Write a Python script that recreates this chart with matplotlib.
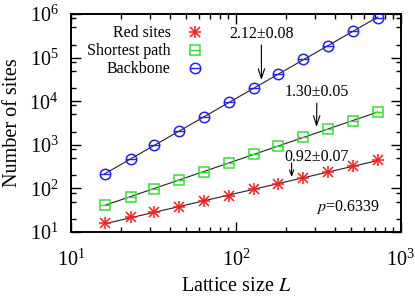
import numpy as np
import matplotlib
matplotlib.use('Agg')
import matplotlib.pyplot as plt
from matplotlib.ticker import LogLocator, NullFormatter
from matplotlib.legend_handler import HandlerTuple

plt.rcParams['font.family'] = ['Liberation Serif', 'DejaVu Serif']
plt.rcParams['mathtext.fontset'] = 'stix'

# datos
L = [16, 23, 32, 45, 64, 91, 128, 181, 256, 362, 512, 724]
red_sites = [15.8, 21.7, 28.3, 36.9, 52.3, 68.1, 95.3, 128, 176, 234, 326, 448]
shortest_path = [40.9, 64.6, 96.9, 160, 242, 383, 625, 953, 1485, 2270, 3520, 5740]
backbone = [214, 464, 988, 2075, 4280, 9440, 20400, 42800, 91400, 187600, 407000, 822000]

labels = ['Red sites', 'Shortest path', 'Backbone']
exponents = ['0.92\u00b10.07', '1.30\u00b10.05', '2.12\u00b10.08']

c_red = '#ff1a1a'
c_green = '#33e033'
c_blue = '#2020ff'

fig = plt.figure(figsize=(4.15, 3.0), dpi=100)
ax = fig.add_axes([0.171, 0.2267, 0.795, 0.7263])

x = np.array(L, dtype=float)
series = [red_sites, shortest_path, backbone]

# lineas de ajuste (ley de potencias)
for y in series:
    k, b = np.polyfit(np.log10(x), np.log10(y), 1)
    xx = np.array([x[0], x[-1]])
    ax.plot(xx, 10 ** (k * np.log10(xx) + b), color='#222222', lw=0.8, zorder=2)

# puntos
h_red1, = ax.plot(L, red_sites, ls='none', marker='x', ms=7.5, mew=1.1, color=c_red, zorder=3)
h_red2, = ax.plot(L, red_sites, ls='none', marker='+', ms=9, mew=1.1, color=c_red, zorder=3)
h_gr1, = ax.plot(L, shortest_path, ls='none', marker='s', ms=7, mew=1.1, mfc='none', color=c_green, zorder=3)
h_gr2, = ax.plot(L, shortest_path, ls='none', marker='_', ms=7, mew=1.0, color=c_green, zorder=3)
h_bl1, = ax.plot(L, backbone, ls='none', marker='o', ms=7.5, mew=1.1, mfc='none', color=c_blue, zorder=3)
h_bl2, = ax.plot(L, backbone, ls='none', marker='_', ms=7.5, mew=1.0, color=c_blue, zorder=3)

ax.set_xscale('log')
ax.set_yscale('log')
ax.set_xlim(10, 1000)
ax.set_ylim(10, 1e6)

ax.yaxis.set_minor_locator(LogLocator(base=10, subs=[2, 5, 8]))
ax.xaxis.set_minor_locator(LogLocator(base=10, subs=np.arange(2, 10)))
ax.xaxis.set_minor_formatter(NullFormatter())
ax.yaxis.set_minor_formatter(NullFormatter())

ax.tick_params(which='both', direction='in', top=True, right=True, width=1.0)
ax.tick_params(which='major', length=7, labelsize=14.5)
ax.tick_params(which='minor', length=3.5)
ax.tick_params(axis='x', which='major', pad=13)
ax.tick_params(axis='y', which='major', pad=9)
for s in ax.spines.values():
    s.set_linewidth(1.4)

ax.set_xlabel('Lattice size $L$', fontsize=14.5, labelpad=4)
ax.set_ylabel('Number of sites', fontsize=14.5, labelpad=5)

leg = ax.legend([(h_red1, h_red2), (h_gr1, h_gr2), (h_bl1, h_bl2)], labels,
                handler_map={tuple: HandlerTuple(ndivide=1)}, numpoints=1,
                loc='upper left', bbox_to_anchor=(0.025, 0.985), frameon=False,
                markerfirst=False, fontsize=11.5, handlelength=1.0,
                handletextpad=1.0, labelspacing=0.12, borderpad=0)

# exponentes y flechas
ax.annotate(exponents[2], xy=(142.7, 30600), xytext=(142.7, 347000),
            ha='center', va='center', fontsize=11.5,
            arrowprops=dict(arrowstyle='->,head_length=0.6,head_width=0.2', lw=0.8, color='black', shrinkA=0, shrinkB=0))
ax.annotate(exponents[1], xy=(308, 2558), xytext=(310, 16000),
            ha='center', va='center', fontsize=11.5,
            arrowprops=dict(arrowstyle='->,head_length=0.6,head_width=0.2', lw=0.8, color='black', shrinkA=0, shrinkB=0))
ax.text(310, 525, exponents[0], ha='center', va='center', fontsize=11.5)
ax.annotate('', xy=(217.6, 182.6), xytext=(217.6, 383),
            arrowprops=dict(arrowstyle='->,head_length=0.4,head_width=0.15', lw=0.8, color='black', shrinkA=0, shrinkB=0))
ax.text(478, 36.9, '$p$=0.6339', ha='center', va='center', fontsize=11.5)

fig.savefig('out.png', dpi=100)
